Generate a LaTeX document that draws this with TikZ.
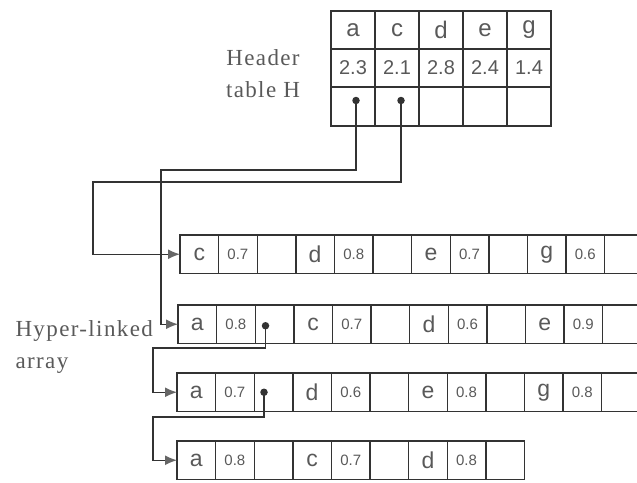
\documentclass[tikz,border=0pt]{standalone}
\usepackage{fontspec}
\setmainfont{Liberation Serif}
\newfontfamily\cellfont{Liberation Sans}
\usetikzlibrary{arrows.meta}

\definecolor{inkline}{gray}{0.2}
\definecolor{inktext}{gray}{0.35}
\definecolor{inktip}{gray}{0.4}

\tikzset{
  hcell/.style={draw=inkline, line width=1.5pt, minimum width=44pt, minimum height=38pt,
    inner sep=0pt, outer sep=0pt, anchor=north west, text=inktext,
    font=\cellfont\fontsize{24}{24}\selectfont},
  hnum/.style={hcell, font=\cellfont\fontsize{20}{20}\selectfont},
  acell/.style={draw=inkline, line width=1.4pt, minimum width=38.6pt, minimum height=38.5pt,
    inner sep=0pt, outer sep=0pt, anchor=north west, text=inktext,
    font=\cellfont\fontsize{23}{23}\selectfont},
  vcell/.style={acell, font=\cellfont\fontsize{15}{15}\selectfont},
  link/.style={draw=inkline, line width=1.4pt,
    -{Latex[length=12pt,width=10pt,color=inktip,fill=inktip]}},
  dot/.style={circle, fill=inkline, inner sep=0pt, minimum size=7.5pt},
  label/.style={text=inktext, font=\addfontfeature{LetterSpace=6}\fontsize{23}{32}\selectfont},
}

\begin{document}
\begin{tikzpicture}[x=1pt,y=-1pt]
  \clip (0,0) rectangle (637,482);

  % header table H
  \foreach \k/\s [count=\i from 0] in {a/2.3,c/2.1,d/2.8,e/2.4,g/1.4}{
    \node[hcell] (h\i-k) at (331+44*\i,11) {\k};
    \node[hnum] (h\i-s) at (331+44*\i,49) {\s};
    \node[hcell,minimum height=39pt] (h\i-p) at (331+44*\i,87) {};
  }
  \node[dot] (dA) at ([xshift=3pt,yshift=6pt]h0-p.center) {};
  \node[dot] (dC) at ([xshift=4pt,yshift=6pt]h1-p.center) {};
  \node[label,align=center] (hdr) at (263,74) {Header\\table H};

  % hyper-linked array, one row per transaction
  \foreach \k/\v [count=\i from 0] in {c/0.7,d/0.8,e/0.7,g/0.6}{
    \node[acell] (r1-\i-k) at (180+115.8*\i,235) {\k};
    \node[vcell] (r1-\i-v) at (r1-\i-k.north east) {\v};
    \node[acell] (r1-\i-p) at (r1-\i-v.north east) {};
  }
  \foreach \k/\v [count=\i from 0] in {a/0.8,c/0.7,d/0.6,e/0.9}{
    \node[acell] (r2-\i-k) at (178+115.8*\i,305) {\k};
    \node[vcell] (r2-\i-v) at (r2-\i-k.north east) {\v};
    \node[acell] (r2-\i-p) at (r2-\i-v.north east) {};
  }
  \foreach \k/\v [count=\i from 0] in {a/0.7,d/0.6,e/0.8,g/0.8}{
    \node[acell] (r3-\i-k) at (177+115.8*\i,373) {\k};
    \node[vcell] (r3-\i-v) at (r3-\i-k.north east) {\v};
    \node[acell] (r3-\i-p) at (r3-\i-v.north east) {};
  }
  \foreach \k/\v [count=\i from 0] in {a/0.8,c/0.7,d/0.8}{
    \node[acell] (r4-\i-k) at (177+115.8*\i,441) {\k};
    \node[vcell] (r4-\i-v) at (r4-\i-k.north east) {\v};
    \node[acell] (r4-\i-p) at (r4-\i-v.north east) {};
  }
  \node[dot] (d2) at ([xshift=-9pt,yshift=-1.5pt]r2-0-p.center) {};
  \node[dot] (d3) at ([xshift=-9.5pt]r3-0-p.center) {};
  \node[label,align=left,anchor=west] (hla) at (12,347) {Hyper-linked\\array};

  % links
  \coordinate (bA) at (161,170);
  \coordinate (bC) at (93,182);
  \coordinate (b2) at (153,348);
  \coordinate (b3) at (153,417);
  \draw[link] (dA.center) |- (bA) |- (r2-0-k.west);
  \draw[link] (dC.center) |- (bC) |- (r1-0-k.west);
  \draw[link] (d2.center) |- (b2) |- (r3-0-k.west);
  \draw[link] (d3.center) |- (b3) |- (r4-0-k.west);
\end{tikzpicture}
\end{document}
